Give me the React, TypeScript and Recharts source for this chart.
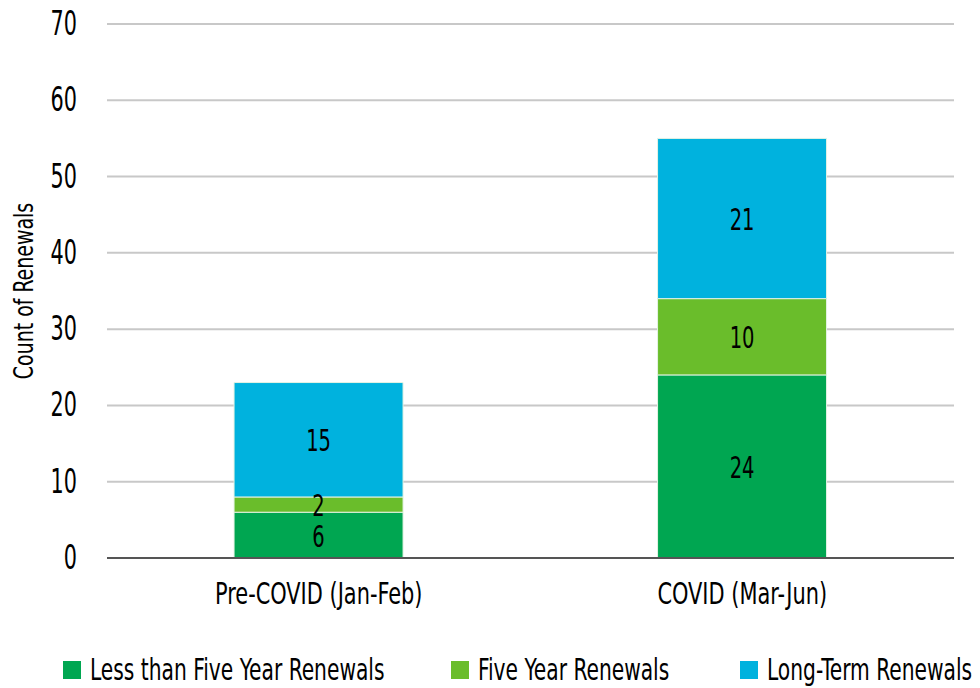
import { BarChart, Bar, XAxis, YAxis, CartesianGrid, Legend, LabelList } from 'recharts';

const periods = ['Pre-COVID (Jan-Feb)', 'COVID (Mar-Jun)'];
const lessThanFive = [6, 24];
const fiveYear = [2, 10];
const longTerm = [15, 21];
const yTicks = [0, 10, 20, 30, 40, 50, 60, 70];

const series = [
    { key: 'less', name: 'Less than Five Year Renewals', color: '#00a651' },
    { key: 'five', name: 'Five Year Renewals', color: '#6abd2b' },
    { key: 'long', name: 'Long-Term Renewals', color: '#00b2de' },
];

const data = periods.map((p, i) => ({
    period: p,
    less: lessThanFive[i],
    five: fiveYear[i],
    long: longTerm[i],
}));

const font = '"DejaVu Sans Condensed", "DejaVu Sans", sans-serif';

// condensed look: squeeze text horizontally
const NarrowText = ({ x, y, text, size, anchor = 'middle', sx = 0.75, rotate = 0 }: any) => (
    <g transform={`translate(${x} ${y}) rotate(${rotate})`}>
        <text transform={`scale(${sx} 1)`} textAnchor={anchor} fontSize={size} fontFamily={font} fill="#000">
            {text}
        </text>
    </g>
);

const YTick = (props: any) => (
    <NarrowText x={props.x} y={props.y + 11} text={props.payload.value} size={33} anchor="end" sx={0.7} />
);

const XTick = (props: any) => (
    <NarrowText x={props.x} y={props.y + 40} text={props.payload.value} size={31} />
);

const BarLabel = (props: any) => {
    const { x, y, width, height, value } = props;
    return <NarrowText x={x + width / 2} y={y + height / 2 + 11.5} text={value} size={31} sx={0.7} />;
};

const legendX = [63, 451, 740];

const LegendContent = () => (
    <svg width={954} height={40} style={{ display: 'block', overflow: 'visible' }}>
        {series.map((s, i) => (
            <g key={s.key}>
                <rect x={legendX[i]} y={13} width={18} height={18} fill={s.color} />
                <NarrowText x={legendX[i] + 27} y={32} text={s.name} size={30} anchor="start" />
            </g>
        ))}
    </svg>
);

const App = () => {
    return (
        <div style={{ position: 'absolute', left: 0, top: 0 }}>
            <BarChart
                width={980}
                height={688}
                data={data}
                margin={{ top: 24, right: 26, bottom: 0, left: 0 }}
                barCategoryGap="30%"
            >
                <CartesianGrid vertical={false} stroke="#c8c8c8" strokeWidth={2} />
                <XAxis
                    dataKey="period"
                    tickLine={false}
                    axisLine={{ stroke: '#555', strokeWidth: 2 }}
                    tick={<XTick />}
                    tickMargin={0}
                    height={90}
                />
                <YAxis
                    domain={[0, 70]}
                    ticks={yTicks}
                    tickLine={false}
                    axisLine={false}
                    tick={<YTick />}
                    tickMargin={24}
                    width={107}
                    label={(p: any) => {
                        const vb = p.viewBox;
                        return (
                            <NarrowText
                                x={33}
                                y={vb.y + vb.height / 2}
                                text="Count of Renewals"
                                size={27}
                                sx={0.78}
                                rotate={-90}
                            />
                        );
                    }}
                />
                <Legend verticalAlign="bottom" height={40} content={<LegendContent />} />
                {series.map((s) => (
                    <Bar
                        key={s.key}
                        dataKey={s.key}
                        name={s.name}
                        stackId="a"
                        fill={s.color}
                        stroke="#e4f3e4"
                        strokeWidth={1}
                        isAnimationActive={false}
                    >
                        <LabelList dataKey={s.key} content={<BarLabel />} />
                    </Bar>
                ))}
            </BarChart>
        </div>
    );
};

export default App;
